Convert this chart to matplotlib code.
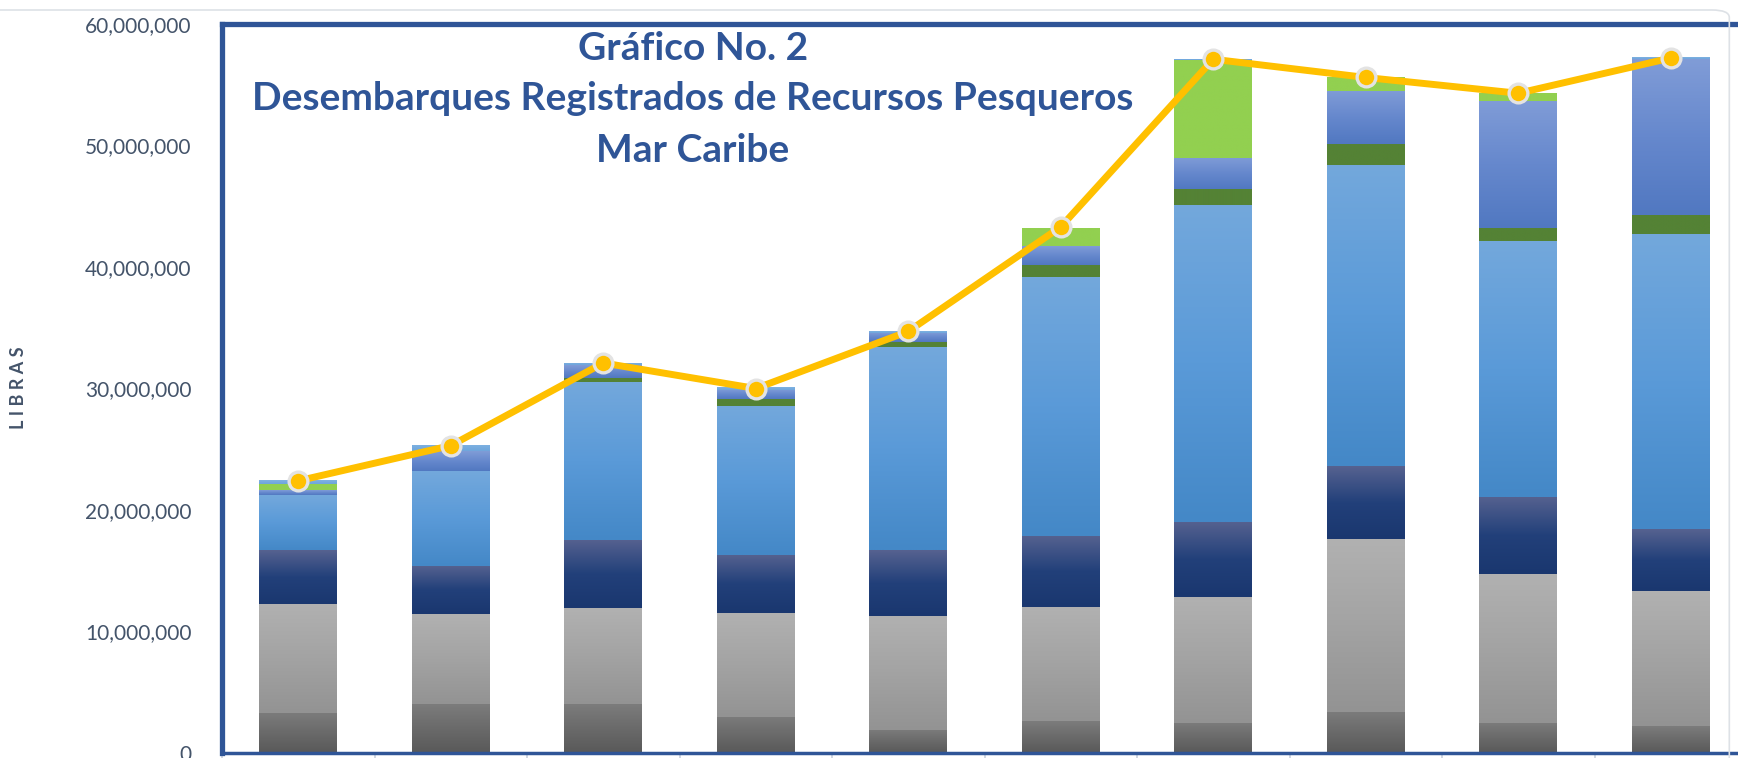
import numpy as np
import matplotlib
matplotlib.use("Agg")
import matplotlib.pyplot as plt
from matplotlib.colors import LinearSegmentedColormap
from matplotlib.ticker import FuncFormatter
from matplotlib.patches import FancyBboxPatch

# ---- data (millions of pounds) ----
categories = ["1", "2", "3", "4", "5", "6", "7", "8", "9", "10"]
s_dark_grey = [3.3, 4.0, 4.0, 3.0, 1.9, 2.6, 2.5, 3.4, 2.5, 2.2]
s_light_grey = [9.0, 7.4, 7.9, 8.5, 9.4, 9.4, 10.3, 14.2, 12.2, 11.1]
s_navy = [4.4, 4.0, 5.6, 4.8, 5.4, 5.9, 6.2, 6.0, 6.4, 5.1]
s_blue = [4.5, 7.8, 13.0, 12.3, 16.7, 21.3, 26.1, 24.8, 21.0, 24.3]
s_dark_green = [0.05, 0.05, 0.4, 0.5, 0.4, 1.0, 1.3, 1.7, 1.1, 1.6]
s_periwinkle = [0.4, 1.6, 1.0, 0.8, 0.8, 1.5, 2.6, 4.4, 10.5, 12.8]
s_light_green = [0.5, 0.0, 0.0, 0.0, 0.0, 1.5, 8.0, 1.1, 0.6, 0.05]
s_light_blue = [0.3, 0.5, 0.2, 0.2, 0.1, 0.05, 0.1, 0.05, 0.05, 0.1]
totals = [22.4, 25.3, 32.1, 30.0, 34.7, 43.3, 57.1, 55.6, 54.3, 57.2]

title_lines = ["Gráfico No. 2",
               "Desembarques Registrados de Recursos Pesqueros",
               "Mar Caribe"]
y_label = "L I B R A S"

series = [
    (s_dark_grey, ["#595959", "#6a6a6a", "#7c7c7c"]),
    (s_light_grey, ["#939393", "#a3a3a3", "#b1b1b1"]),
    (s_navy, ["#1a376f", "#22407a", "#566290"]),
    (s_blue, ["#4488c7", "#5a9ad8", "#73a8dc"]),
    (s_dark_green, ["#548235", "#548235", "#548235"]),
    (s_periwinkle, ["#5178c1", "#6688cd", "#809cd7"]),
    (s_light_green, ["#92d050", "#92d050", "#92d050"]),
    (s_light_blue, ["#6fa6dc", "#76abde", "#80b3e2"]),
]

plt.rcParams['font.family'] = ['Lato', 'DejaVu Sans']

W, H = 1738, 758
fig = plt.figure(figsize=(W / 100, H / 100), dpi=100)

# faint outer chart border
fig.patches.append(FancyBboxPatch((-0.02, -0.05), 1.015, 1.0 - 10 / H + 0.05,
                                  boxstyle="round,pad=0,rounding_size=0.01",
                                  transform=fig.transFigure, fill=False,
                                  edgecolor="#dde1e6", linewidth=1.2, zorder=0))

left = 222 / W
right_px = 1747
ax = fig.add_axes([left, 5 / H, (right_px - 222) / W, (753 - 24) / H])

x = np.arange(len(categories))
width = 0.51
bottom = np.zeros(len(categories))
for vals, cols in series:
    v = np.array(vals) * 1e6
    bars = ax.bar(x, v, width, bottom=bottom, color=cols[1], linewidth=0, zorder=2)
    cmap = LinearSegmentedColormap.from_list("g", cols)
    for b in bars:
        if b.get_height() <= 0:
            continue
        x0, y0 = b.get_x(), b.get_y()
        x1, y1 = x0 + b.get_width(), y0 + b.get_height()
        grad = np.linspace(0, 1, 128).reshape(-1, 1)
        im = ax.imshow(grad, extent=(x0, x1, y0, y1), origin="lower", cmap=cmap,
                       aspect="auto", interpolation="bilinear", zorder=2.5)
        im.set_clip_path(b)
    bottom = bottom + v

ax.plot(x, np.array(totals) * 1e6, color="#ffc000", linewidth=5.0, zorder=5,
        marker="o", markersize=13.5, markerfacecolor="#ffc000",
        markeredgecolor="#e3e3e3", markeredgewidth=2.4)

ax.set_xlim(-0.5, len(categories) - 0.5)
ax.set_ylim(0, 60e6)
ax.set_yticks(np.arange(0, 60e6 + 1, 10e6))
ax.yaxis.set_major_formatter(FuncFormatter(lambda v, p: f"{int(round(v)):,}"))
ax.tick_params(axis="y", length=0, pad=22, labelsize=15, labelcolor="#44546a")
ax.set_xticks(np.arange(-0.5, len(categories), 1.0))
ax.set_xticklabels([])
ax.tick_params(axis="x", length=6, width=1.2, color="#c9d1dd", direction="out")

frame = "#2f5597"
for side in ["left", "top", "right"]:
    ax.spines[side].set_color(frame)
    ax.spines[side].set_linewidth(3.8)
ax.spines["bottom"].set_color(frame)
ax.spines["bottom"].set_linewidth(2.5)

# title inside plot area
ty = [49, 99, 151]
for t, yy in zip(title_lines, ty):
    fig.text(693 / W, 1 - yy / H, t, ha="center", va="center", fontsize=28,
             fontweight="bold", color=frame, zorder=10)

fig.text(19 / W, 1 - 388 / H, y_label, rotation=90, ha="center", va="center",
         fontsize=13, fontweight="bold", color="#44546a")

fig.savefig("out.png", dpi=100)
